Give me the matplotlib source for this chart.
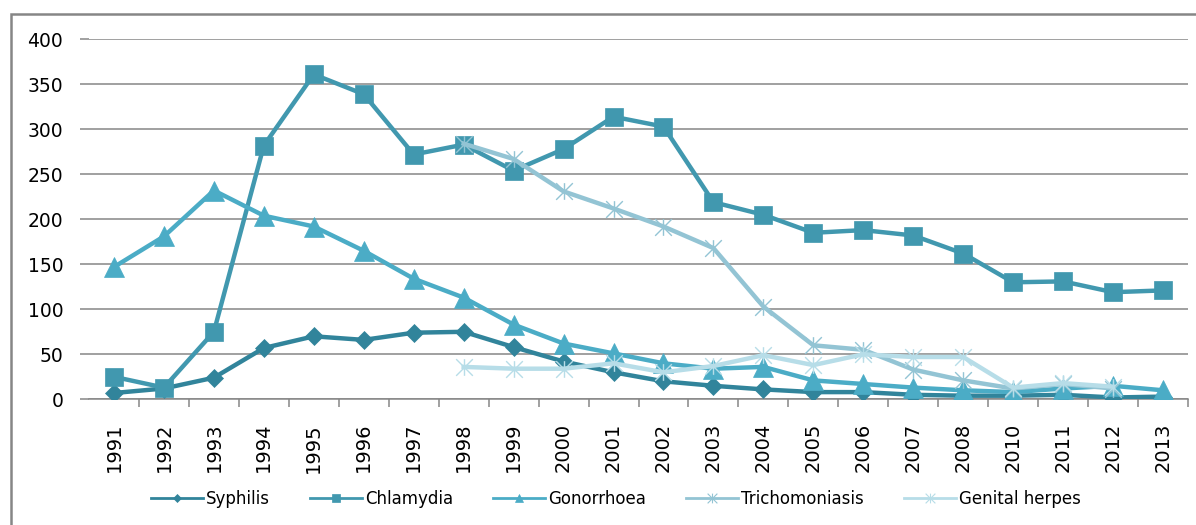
"""
plot.py  —  STI notifications 1991-2013, five series on one line chart
"""

import matplotlib
matplotlib.use("Agg")
import matplotlib.pyplot as plt
from matplotlib.lines import Line2D
from matplotlib.patches import Rectangle
from matplotlib.path import Path
import numpy as np

# ── Data ──────────────────────────────────────────────────────────────────────
years = ["1991", "1992", "1993", "1994", "1995", "1996", "1997", "1998",
         "1999", "2000", "2001", "2002", "2003", "2004", "2005", "2006",
         "2007", "2008", "2010", "2011", "2012", "2013"]

syphilis = [7, 12, 24, 57, 70, 66, 74, 75, 58, 42, 30, 20,
            15, 11, 8, 8, 5, 4, 4, 5, 2, 3]
chlamydia = [25, 13, 75, 282, 361, 339, 272, 283, 254, 278, 314, 303,
             219, 205, 185, 188, 182, 162, 130, 131, 119, 121]
gonorrhoea = [147, 181, 232, 204, 192, 165, 134, 113, 83, 62, 51, 40,
              34, 36, 21, 17, 13, 10, 8, 12, 15, 10]
trichomoniasis = [None] * 7 + [284, 267, 231, 212, 192, 168, 103, 60, 55,
                               33, 21, 12, 17, 12, None]
genital_herpes = [None] * 7 + [36, 34, 34, 40, 30, 37, 49, 38, 50,
                               47, 47, 13, 18, 14, None]

# ── Styles ────────────────────────────────────────────────────────────────────
GRID = "#868686"
STAR = Path([(-1, -1), (1, 1), (-1, 1), (1, -1), (0, -1), (0, 1)],
            [Path.MOVETO, Path.LINETO] * 3)

series = [
    # label, values, colour, marker, marker size, legend marker size
    ("Syphilis",       syphilis,       "#31849B", "D",  9,  4),
    ("Chlamydia",      chlamydia,      "#4198AF", "s",  13, 6),
    ("Gonorrhoea",     gonorrhoea,     "#4BACC6", "^",  14, 6),
    ("Trichomoniasis", trichomoniasis, "#93C4D4", STAR, 12, 7),
    ("Genital herpes", genital_herpes, "#B7DDE8", STAR, 12, 7),
]

W, H = 1196, 525
fig = plt.figure(figsize=(W / 100, H / 100), dpi=100)

# outer chart frame (cut off on the right and at the bottom)
fig.patches.append(Rectangle((11 / W, -0.1), 1.2, (H - 14) / H + 0.1,
                             transform=fig.transFigure, fill=False,
                             edgecolor=GRID, lw=1.8))

ax = fig.add_axes([89 / W, (H - 399.3) / H, (1188 - 89) / W, 360 / H])
x = np.arange(len(years))

handles = []
for label, vals, col, mk, ms, lms in series:
    y = np.array([np.nan if v is None else v for v in vals], dtype=float)
    star = not isinstance(mk, str)
    ax.plot(x, y, color=col, lw=3.2, marker=mk, markersize=ms,
            markerfacecolor=col, markeredgecolor=col,
            markeredgewidth=1.0 if star else 0.5, solid_joinstyle="round",
            zorder=3)
    handles.append(Line2D([], [], color=col, lw=2, marker=mk, markersize=lms,
                          markerfacecolor=col, markeredgecolor=col,
                          markeredgewidth=0.8 if star else 0.5))

# ── Axes ──────────────────────────────────────────────────────────────────────
ax.set_xlim(-0.5, len(years) - 0.5)
ax.set_ylim(0, 400)
ax.set_yticks(range(0, 401, 50))
ax.yaxis.grid(True, color=GRID, lw=1.1)
ax.set_axisbelow(True)
for side in ("left", "right", "top"):
    ax.spines[side].set_visible(False)
ax.spines["bottom"].set_color(GRID)
ax.spines["bottom"].set_linewidth(1.1)

ax.tick_params(axis="y", length=6.5, width=1.1, color=GRID,
               labelsize=13.5, pad=12)
ax.set_xticks(x)
ax.set_xticklabels(years, rotation=90)
ax.tick_params(axis="x", which="major", length=0, labelsize=14, pad=17)
ax.set_xticks(np.arange(0.5, len(years)), minor=True)
ax.tick_params(axis="x", which="minor", length=5.8, width=1.1, color=GRID)

fig.legend(handles, [s[0] for s in series], loc="center",
           bbox_to_anchor=(616 / W, 26 / H), ncol=5, frameon=False,
           fontsize=12, handlelength=3.1, handletextpad=0.2,
           columnspacing=2.4)

fig.savefig("out.png", dpi=100)
